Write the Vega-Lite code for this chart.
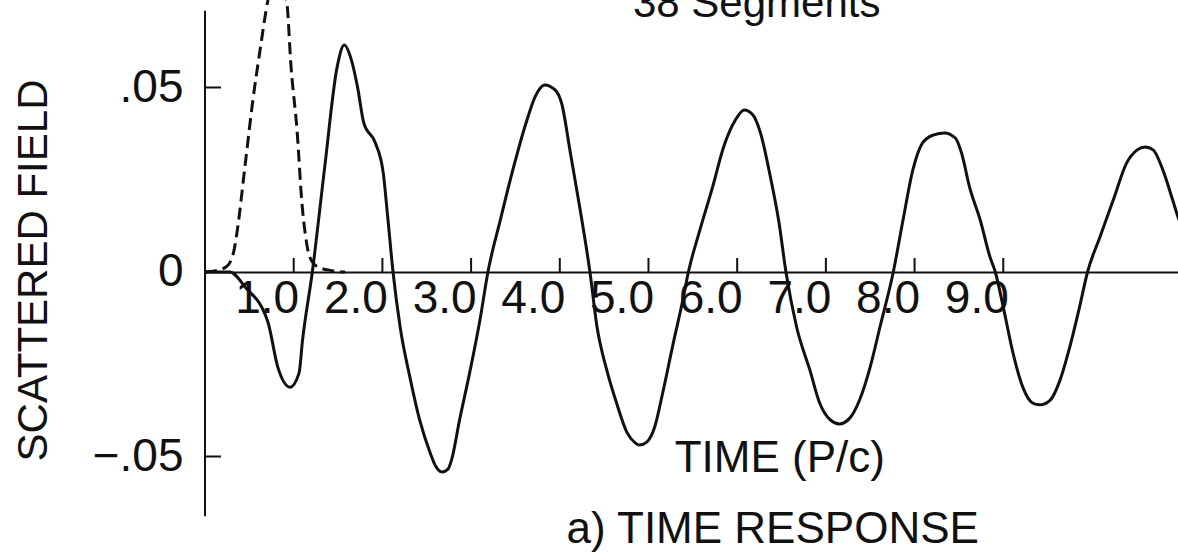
{
  "$schema": "https://vega.github.io/schema/vega-lite/v6.json",
  "width": 973,
  "height": 553,
  "autosize": {"type": "none"},
  "padding": {"left": 205, "top": 0, "right": 0, "bottom": 0},
  "background": "white",
  "config": {"view": {"stroke": null}, "font": "Liberation Sans"},
  "datasets": {
    "solid": [
      {"t": 0, "v": 0}, {"t": 0.28, "v": 0}, {"t": 0.45, "v": -0.004}, {"t": 0.71, "v": -0.0136},
      {"t": 0.82, "v": -0.0257}, {"t": 0.96, "v": -0.0312}, {"t": 1.06, "v": -0.0274}, {"t": 1.1, "v": -0.0184},
      {"t": 1.21, "v": 0}, {"t": 1.35, "v": 0.0285}, {"t": 1.49, "v": 0.0556}, {"t": 1.57, "v": 0.0615},
      {"t": 1.65, "v": 0.0575}, {"t": 1.72, "v": 0.0501}, {"t": 1.79, "v": 0.0404}, {"t": 1.92, "v": 0.035},
      {"t": 2.01, "v": 0.0268}, {"t": 2.06, "v": 0.0149}, {"t": 2.12, "v": 0},
      {"t": 2.2, "v": -0.0149}, {"t": 2.31, "v": -0.0285}, {"t": 2.42, "v": -0.0401}, {"t": 2.54, "v": -0.0491},
      {"t": 2.6, "v": -0.0526}, {"t": 2.67, "v": -0.0542}, {"t": 2.74, "v": -0.0534}, {"t": 2.78, "v": -0.0509},
      {"t": 2.87, "v": -0.0401}, {"t": 2.99, "v": -0.0266}, {"t": 3.1, "v": -0.013}, {"t": 3.19, "v": 0},
      {"t": 3.33, "v": 0.0141}, {"t": 3.47, "v": 0.0276}, {"t": 3.63, "v": 0.0412}, {"t": 3.72, "v": 0.0474},
      {"t": 3.83, "v": 0.0507}, {"t": 3.95, "v": 0.0493}, {"t": 4.02, "v": 0.0458}, {"t": 4.12, "v": 0.0322},
      {"t": 4.23, "v": 0.0168}, {"t": 4.34, "v": 0},
      {"t": 4.42, "v": -0.0149}, {"t": 4.53, "v": -0.0266}, {"t": 4.64, "v": -0.0355}, {"t": 4.76, "v": -0.0436},
      {"t": 4.85, "v": -0.0463}, {"t": 4.9, "v": -0.0469}, {"t": 4.98, "v": -0.0461}, {"t": 5.07, "v": -0.042},
      {"t": 5.16, "v": -0.0328}, {"t": 5.28, "v": -0.0192}, {"t": 5.38, "v": -0.0084}, {"t": 5.45, "v": 0},
      {"t": 5.58, "v": 0.0114}, {"t": 5.72, "v": 0.0228}, {"t": 5.85, "v": 0.0341}, {"t": 5.98, "v": 0.0412},
      {"t": 6.08, "v": 0.0439}, {"t": 6.18, "v": 0.0425}, {"t": 6.26, "v": 0.0379}, {"t": 6.37, "v": 0.0263},
      {"t": 6.47, "v": 0.0136}, {"t": 6.55, "v": 0},
      {"t": 6.67, "v": -0.0149}, {"t": 6.82, "v": -0.0266}, {"t": 6.93, "v": -0.0355}, {"t": 7.05, "v": -0.0401},
      {"t": 7.15, "v": -0.0412}, {"t": 7.27, "v": -0.0396}, {"t": 7.38, "v": -0.0347}, {"t": 7.5, "v": -0.0257},
      {"t": 7.61, "v": -0.0149}, {"t": 7.76, "v": 0},
      {"t": 7.87, "v": 0.0141}, {"t": 7.98, "v": 0.0276}, {"t": 8.09, "v": 0.035}, {"t": 8.21, "v": 0.0371},
      {"t": 8.34, "v": 0.0377}, {"t": 8.46, "v": 0.0363}, {"t": 8.53, "v": 0.0322}, {"t": 8.62, "v": 0.023},
      {"t": 8.74, "v": 0.0141}, {"t": 8.85, "v": 0.0041}, {"t": 8.91, "v": 0},
      {"t": 9.0, "v": -0.0095}, {"t": 9.11, "v": -0.022}, {"t": 9.22, "v": -0.0312}, {"t": 9.33, "v": -0.0355},
      {"t": 9.41, "v": -0.036}, {"t": 9.53, "v": -0.0347}, {"t": 9.64, "v": -0.0293}, {"t": 9.75, "v": -0.0203},
      {"t": 9.86, "v": -0.0095}, {"t": 9.95, "v": 0},
      {"t": 10.09, "v": 0.0095}, {"t": 10.24, "v": 0.0195}, {"t": 10.39, "v": 0.0295}, {"t": 10.51, "v": 0.0331},
      {"t": 10.6, "v": 0.0339}, {"t": 10.69, "v": 0.0331}, {"t": 10.8, "v": 0.0276}, {"t": 10.91, "v": 0.0195},
      {"t": 10.97, "v": 0.0149}, {"t": 11.1, "v": 0.008}
    ],
    "dashed": [
      {"t": 0, "v": 0}, {"t": 0.11, "v": 0.0003}, {"t": 0.24, "v": 0.0014}, {"t": 0.32, "v": 0.0051},
      {"t": 0.36, "v": 0.0106}, {"t": 0.45, "v": 0.0285}, {"t": 0.54, "v": 0.0466}, {"t": 0.62, "v": 0.06},
      {"t": 0.71, "v": 0.0737}, {"t": 0.81, "v": 0.0813}, {"t": 0.92, "v": 0.0737}, {"t": 0.97, "v": 0.0556},
      {"t": 1.04, "v": 0.0377}, {"t": 1.09, "v": 0.0195}, {"t": 1.14, "v": 0.0087}, {"t": 1.18, "v": 0.0041},
      {"t": 1.27, "v": 0.0014}, {"t": 1.4, "v": 0.0005}, {"t": 1.58, "v": 0}
    ]
  },
  "layer": [
    {
      "data": {"name": "solid"},
      "mark": {"type": "line", "interpolate": "monotone", "stroke": "#111", "strokeWidth": 3, "clip": true},
      "encoding": {
        "x": {
          "field": "t", "type": "quantitative",
          "scale": {"domain": [0, 10.97], "nice": false, "zero": false},
          "axis": {
            "values": [1, 2, 3, 4, 5, 6, 7, 8, 9], "format": ".1f", "offset": -281,
            "domainColor": "#111", "domainWidth": 2, "ticks": false, "grid": false,
            "labelAlign": "right", "labelOffset": 5, "labelPadding": 4, "labelBaseline": "top",
            "labelFontSize": 46, "labelColor": "#111", "labelFlush": false, "labelOverlap": false,
            "title": null
          }
        },
        "y": {
          "field": "v", "type": "quantitative",
          "scale": {"domain": [-0.07615, 0.07371], "nice": false, "zero": false},
          "axis": {
            "values": [0.05, 0, -0.05],
            "labelExpr": "datum.value > 0.01 ? '.05' : (datum.value < -0.01 ? '−.05' : '0')",
            "domain": false, "ticks": false, "grid": false,
            "labelPadding": 22, "labelFontSize": 46, "labelColor": "#111",
            "title": "SCATTERED FIELD", "titleFontSize": 42, "titleFontWeight": "normal", "titleColor": "#111",
            "titleX": -172, "titleY": 270, "titleAngle": -90, "titleAlign": "center", "titleBaseline": "middle"
          }
        }
      }
    },
    {
      "data": {"name": "dashed"},
      "mark": {"type": "line", "interpolate": "monotone", "stroke": "#111", "strokeWidth": 3, "strokeDash": [12, 6], "clip": true},
      "encoding": {
        "x": {"field": "t", "type": "quantitative"},
        "y": {"field": "v", "type": "quantitative"}
      }
    },
    {
      "data": {"values": [{"k": 1}]},
      "mark": {"type": "rule", "stroke": "#111", "strokeWidth": 2},
      "encoding": {"x": {"datum": 0}, "y": {"datum": -0.0662}, "y2": {"datum": 0.0708}}
    },
    {
      "data": {"values": [{"v": 0.05}, {"v": -0.05}]},
      "mark": {"type": "rule", "stroke": "#111", "strokeWidth": 2},
      "encoding": {"x": {"datum": 0}, "x2": {"datum": 0.18}, "y": {"field": "v", "type": "quantitative"}}
    },
    {
      "data": {"values": [{"t": 1}, {"t": 2}, {"t": 3}, {"t": 4}, {"t": 5}, {"t": 6}, {"t": 7}, {"t": 8}, {"t": 9}]},
      "mark": {"type": "rule", "stroke": "#111", "strokeWidth": 2},
      "encoding": {"x": {"field": "t", "type": "quantitative"}, "y": {"datum": 0}, "y2": {"datum": 0.0038}}
    },
    {
      "data": {"values": [{"t": 6.22, "v": 0.0691, "label": "38 Segments"}]},
      "mark": {"type": "text", "fontSize": 42, "align": "center", "baseline": "alphabetic", "color": "#111"},
      "encoding": {"x": {"field": "t", "type": "quantitative"}, "y": {"field": "v", "type": "quantitative"}, "text": {"field": "label"}}
    },
    {
      "data": {"values": [{"t": 6.48, "v": -0.0542, "label": "TIME (P/c)"}]},
      "mark": {"type": "text", "fontSize": 44, "align": "center", "baseline": "alphabetic", "color": "#111"},
      "encoding": {"x": {"field": "t", "type": "quantitative"}, "y": {"field": "v", "type": "quantitative"}, "text": {"field": "label"}}
    },
    {
      "data": {"values": [{"t": 6.4, "v": -0.0734, "label": "a)  TIME RESPONSE"}]},
      "mark": {"type": "text", "fontSize": 44, "align": "center", "baseline": "alphabetic", "color": "#111"},
      "encoding": {"x": {"field": "t", "type": "quantitative"}, "y": {"field": "v", "type": "quantitative"}, "text": {"field": "label"}}
    }
  ]
}
